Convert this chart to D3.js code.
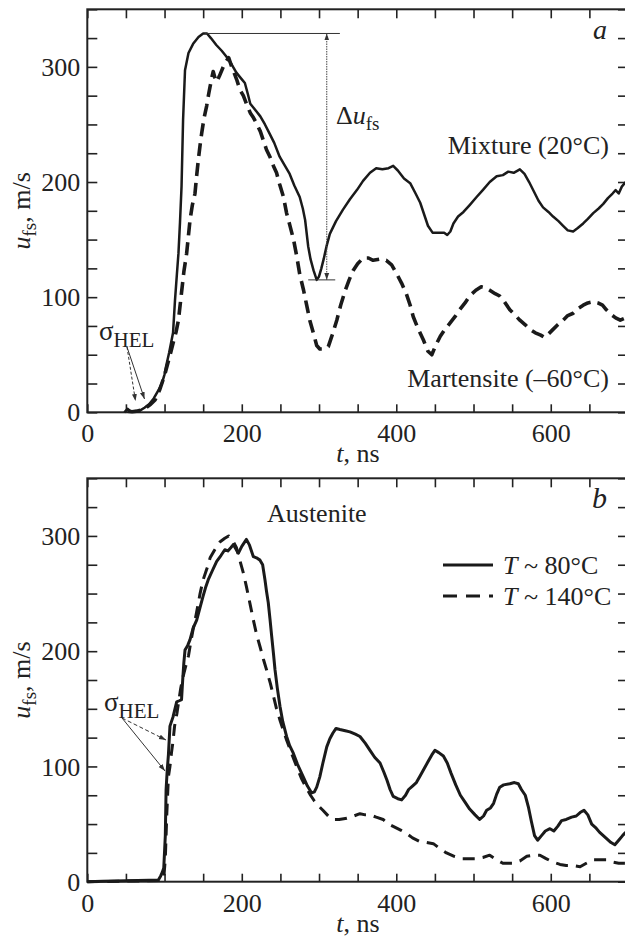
<!DOCTYPE html>
<html>
<head>
<meta charset="utf-8">
<script src="https://cdn.jsdelivr.net/npm/d3@7"></script>
<style>
  html, body { margin: 0; padding: 0; background: #fff; }
  svg { display: block; }
</style>
</head>
<body>
<svg id="chart" width="625" height="939" style='font-family: "Liberation Serif", serif;'></svg>
<script>
// Free-surface velocity profiles u_fs(t), values in m/s, time in ns
const xTicks = [0, 200, 400, 600];
const yTicks = [0, 100, 200, 300];

// Panel a: two-phase mixture at 20 °C
const mixture = [
  [48,0],[52,3],[56,1],[62,0.5],[68,1.5],[74,4],[80,7],[86,12],[92,19],[97,26],[100,33],[102,40],
  [106,52],[111,69],[113.5,97],[116,120],[118,138],[120,165],[122,196],[124,254],[126.5,297],[131,312],
  [137,320],[144,326],[150,329],[155,329],[160,325],[167,319],[174,314],[180,309],[187,302],[193,295],
  [199,290],[204,286],[208,276],[211,268],[217,263],[224,257],[230,250],[236,242],[242,234],[249,222],
  [255,215],[262,207],[268,197],[275,187],[279,177],[282,167],[286,144],[289,133],[293,123],[297,115],
  [300,118],[303,125],[306,133],[310,145],[314,155],[322,166],[331,176],[340,185],[349,193],[357,201],
  [366,208],[374,212],[382,211],[390,212],[396,214],[402,210],[410,203],[418,199],[425,190],[431,182],
  [436,172],[441,162],[447,156],[455,156],[462,156],[466,154],[470,157],[474,164],[480,170],[487,174],
  [495,180],[504,187],[512,193],[521,200],[530,205],[538,206],[545,209],[552,208],[560,211],[566,207],
  [572,200],[578,192],[584,184],[590,178],[597,174],[603,170],[610,166],[616,162],[622,158],[629,157],
  [635,160],[642,164],[648,168],[655,173],[662,177],[668,181],[674,186],[680,190],[684,193],[688,190],
  [692,196],[697,200]
];

// Panel a: martensite at −60 °C
const martensite = [
  [52,1],[58,0.5],[64,1],[70,2],[76,4],[82,7],[88,11],[94,20],[100,32],[104,42],[108,52],[111,60],
  [115,70],[118,80],[122,104],[125,122],[128.6,138],[133,167],[136,180],[139.4,190],[141.5,205],
  [143.7,219],[146,232],[148,242],[151,255],[154.5,266],[157,276],[159,283],[161,290],[163,296],
  [165,291],[167.5,287],[171,292],[176,300],[180,305],[183,308],[187,300],[190,295],[193.4,289],
  [197.7,280],[202,275],[206,268],[211,260],[215,256],[219,251],[224,244],[228,236],[232,228],
  [237,221],[241,214],[245,208],[249,198],[254,187],[258,173],[262,163],[267,150],[271,136],
  [275,120],[280,106],[284,93],[288,80],[293,68],[297,58],[301,55],[306,55],[312,57],[317,67],
  [323,80],[328,93],[334,106],[339,115],[344,123],[350,129],[357,134],[364,134],[370,132],[378,133],
  [387,132],[394,128],[400,121],[407,112],[413,103],[418,93],[422,83],[428,73],[435,63],[441,53],
  [446,50],[451,58],[457,66],[463,72],[469,77],[476,83],[482,89],[489,95],[495,101],[503,106],
  [510,109],[516,108],[521,106],[528,103],[534,101],[540,96],[547,89],[553,85],[560,80],[567,76],
  [573,72],[580,69],[587,67],[592,65],[597,68],[603,72],[609,76],[616,80],[622,84],[629,86],[635,90],
  [642,93],[648,95],[655,96],[661,95],[667,93],[672,89],[678,85],[684,82],[690,80],[697,82]
];

// Panel b: austenite at T ~ 80 °C
const austenite80 = [
  [0,0],[20,0.3],[50,0.8],[80,1.2],[92,1.5],[95,5],[97,8],[99,12],[101,40],[102,80],[103.5,97],
  [105,110],[107,135],[111,143],[115.7,156],[119,157],[122,158],[123.5,175],[125,190],[126.5,201],
  [130,205],[133,210],[137,220],[141.6,227],[146,238],[150,248],[153,255],[156.6,262],[162,270],
  [167.5,278],[173,283],[178,288],[182,287],[186,290],[189,292.5],[192,289],[195.5,285],[200,291],
  [203,294],[206,297],[210,292],[215,282],[219,281],[223.6,279],[227,275],[230,262],[232,252],
  [234.3,242],[236.5,228],[238.7,213],[241,198],[243,184],[246,168],[249.5,152],[253,139],[258,126],
  [262,118],[266.7,111.5],[272,102],[279.6,91],[285,83],[290.5,77],[294,78],[297,82],[301,91],
  [305,103],[310,117],[314,124],[318,129],[322,133],[327,132],[334,131],[340,130],[347,128],[353,126],
  [360,120],[366,114],[372,108],[379,103],[384,95],[388,88],[392,80],[396,74],[402,72],[407,71],
  [412,75],[416,80],[421,83],[426,86],[431,92],[436,98],[441,104],[446,110],[450,114],[455,112],
  [461,109],[466,103],[471,94],[477,84],[483,75],[489,69],[495,63],[502,58],[508,54],[513,57],[517,62],
  [522,64],[526,68],[530,76],[534,82],[539,84],[547,85],[553,86],[558,85],[562,80],[567,75],[571,65],
  [575,52],[579,40],[583,36],[588,40],[593,44],[599,46],[604,44],[609,48],[614,53],[620,54],[627,56],
  [633,57],[638,60],[643,62],[648,58],[653,50],[658,47],[663,43],[668,40],[673,37],[678,34],[683,32],
  [688,36],[693,40],[697,43]
];

// Panel b: austenite at T ~ 140 °C
const austenite140 = [
  [0,0],[50,0.5],[95,1],[99,3],[101,20],[103,60],[105,91],[107,100],[109,112],[111,122],[113,135],
  [116,146],[118,155],[121,168],[124,178],[127,186],[131,196],[134,208],[137,219],[141,232],[146,250],
  [150,262],[155,272],[159,281],[165,288],[172,295],[178,298],[183,300],[186,298],[189,295],[193,290],
  [197,280],[202,268],[206,256],[211,240],[215,227],[219,215],[224,203],[228,193],[232,184],[237,172],
  [241,161],[245,150],[250,139],[254,131],[258,123],[264,112],[271,100],[277,90],[283,82],[289,75],
  [294,70],[299,66],[305,62],[312,57],[318,54],[326,54],[336,55],[345,57],[353,59],[360,58],[366,58],
  [374,56],[383,54],[390,50],[396,48],[405,45],[413,42],[421,38],[430,35],[439,34],[448,33],[456,29],
  [465,25],[475,22],[486,20],[495,20],[504,20],[512,21],[521,23],[530,19],[538,16],[545,16],[551,16],
  [560,18],[569,22],[578,23],[586,23],[594,20],[603,17],[612,15],[620,14],[629,14],[638,13],[646,16],
  [655,19],[664,19],[672,19],[680,17],[688,16],[696,16]
];

const FONT = '"Liberation Serif", "Times New Roman", serif';
const INK = "#222";
const svg = d3.select("#chart");
const X_DOMAIN = [0, 700], Y_DOMAIN = [0, 350];

const defs = svg.append("defs");
defs.append("marker")
  .attr("id", "arrow")
  .attr("viewBox", "0 0 10 10")
  .attr("refX", 10).attr("refY", 5)
  .attr("markerWidth", 7).attr("markerHeight", 7)
  .attr("orient", "auto-start-reverse")
  .append("path").attr("d", "M0,1.5 L10,5 L0,8.5 Z").attr("fill", "#333");

function label(g, x, y, size) {
  return g.append("text")
    .attr("x", x).attr("y", y)
    .attr("font-size", size)
    .attr("fill", INK)
    .style("font-family", FONT);
}

function makePanel(top, bottom) {
  const left = 87.3, right = 628;
  const x = d3.scaleLinear().domain(X_DOMAIN).range([left, right]);
  const y = d3.scaleLinear().domain(Y_DOMAIN).range([bottom, top]);
  const g = svg.append("g");

  // frame
  g.append("rect")
    .attr("x", left).attr("y", top)
    .attr("width", right - left).attr("height", bottom - top)
    .attr("fill", "none").attr("stroke", INK).attr("stroke-width", 2);

  const xMinor = d3.range(0, 701, 50);
  const yMinor = d3.range(0, 351, 25);

  // inward ticks on all four sides
  g.append("g").attr("transform", `translate(0,${bottom})`)
    .call(d3.axisBottom(x).tickValues(xMinor).tickSize(-8).tickFormat(""))
    .call(s => s.select(".domain").remove());
  g.append("g").attr("transform", `translate(0,${top})`)
    .call(d3.axisTop(x).tickValues(xMinor).tickSize(-9).tickFormat(""))
    .call(s => s.select(".domain").remove());
  g.append("g").attr("transform", `translate(${left},0)`)
    .call(d3.axisLeft(y).tickValues(yMinor).tickSize(-10).tickFormat(""))
    .call(s => s.select(".domain").remove());
  g.append("g").attr("transform", `translate(${right},0)`)
    .call(d3.axisRight(y).tickValues(yMinor).tickSize(-10).tickFormat(""))
    .call(s => s.select(".domain").remove());
  g.selectAll(".tick line").attr("stroke", INK).attr("stroke-width", 1.6);

  // tick labels
  const xl = g.append("g").attr("transform", `translate(0,${bottom})`)
    .call(d3.axisBottom(x).tickValues(xTicks).tickSize(0).tickPadding(0));
  xl.attr("font-family", null).select(".domain").remove();
  xl.selectAll("text").attr("font-size", 26).attr("y", 30).attr("dy", 0)
    .style("font-family", FONT).attr("fill", INK);

  const yl = g.append("g").attr("transform", `translate(${left},0)`)
    .call(d3.axisLeft(y).tickValues(yTicks).tickSize(0).tickPadding(0));
  yl.attr("font-family", null).select(".domain").remove();
  yl.selectAll("text").attr("font-size", 26).attr("x", -7).attr("dy", "0.33em")
    .style("font-family", FONT).attr("fill", INK);

  // axis titles
  const xt = label(g, 358, bottom + 50, 26).attr("text-anchor", "middle");
  xt.append("tspan").attr("font-style", "italic").text("t");
  xt.append("tspan").text(", ns");

  const yt = label(g, 0, 0, 26)
    .attr("transform", `translate(30,${(top + bottom) / 2}) rotate(-90)`)
    .attr("text-anchor", "middle");
  yt.append("tspan").attr("font-style", "italic").text("u");
  yt.append("tspan").attr("font-size", 19).attr("dy", 6).text("fs");
  yt.append("tspan").attr("dy", -6).text(", m/s");

  return { g, x, y, top, bottom, left, right };
}

function drawCurve(p, data, width, dash) {
  const line = d3.line().x(d => p.x(d[0])).y(d => p.y(d[1])).curve(d3.curveLinear);
  p.g.append("path")
    .datum(data)
    .attr("d", line)
    .attr("fill", "none")
    .attr("stroke", "#1a1a1a")
    .attr("stroke-width", width)
    .attr("stroke-linejoin", "round")
    .attr("stroke-dasharray", dash || null);
}

function sigmaLabel(g, xPos, yPos) {
  const t = label(g, xPos, yPos, 27);
  t.append("tspan").text("σ");
  t.append("tspan").attr("font-size", 21).attr("dy", 7).text("HEL");
}

function arrow(g, x1, y1, x2, y2, dash) {
  g.append("line")
    .attr("x1", x1).attr("y1", y1).attr("x2", x2).attr("y2", y2)
    .attr("stroke", "#333").attr("stroke-width", 1)
    .attr("stroke-dasharray", dash || null)
    .attr("marker-end", "url(#arrow)");
}

// ---------- panel a ----------
const pa = makePanel(9.3, 412.3);
drawCurve(pa, martensite, 3.6, "13,7");
drawCurve(pa, mixture, 2.5);

// Δu_fs: peak-to-dip amplitude of the mixture profile
const peakU = d3.max(mixture, d => d[1]);
const dipU = d3.min(mixture.filter(d => d[0] > 250 && d[0] < 350), d => d[1]);
pa.g.append("line")
  .attr("x1", pa.x(152)).attr("x2", pa.x(327))
  .attr("y1", pa.y(peakU)).attr("y2", pa.y(peakU))
  .attr("stroke", "#333").attr("stroke-width", 1);
pa.g.append("line")
  .attr("x1", pa.x(286)).attr("x2", pa.x(321))
  .attr("y1", pa.y(dipU)).attr("y2", pa.y(dipU))
  .attr("stroke", "#333").attr("stroke-width", 1);
pa.g.append("line")
  .attr("x1", pa.x(310)).attr("x2", pa.x(310))
  .attr("y1", pa.y(peakU)).attr("y2", pa.y(dipU))
  .attr("stroke", "#444").attr("stroke-width", 1).attr("stroke-dasharray", "1.5,1")
  .attr("marker-start", "url(#arrow)").attr("marker-end", "url(#arrow)");
const du = label(pa.g, 336, 124, 26);
du.append("tspan").text("Δ");
du.append("tspan").attr("font-style", "italic").text("u");
du.append("tspan").attr("font-size", 19).attr("dy", 6).text("fs");

label(pa.g, 609, 154, 26).attr("text-anchor", "end").text("Mixture (20°C)");
label(pa.g, 609, 387, 26).attr("text-anchor", "end").text("Martensite (–60°C)");
label(pa.g, 607, 39, 28).attr("text-anchor", "end").attr("font-style", "italic").text("a");

sigmaLabel(pa.g, 99, 340);
arrow(pa.g, 127, 347, 135.5, 401, "3,2");
arrow(pa.g, 127, 347, 144.5, 399);

// ---------- panel b ----------
const pb = makePanel(478.3, 881.7);
drawCurve(pb, austenite140, 3, "12,8");
drawCurve(pb, austenite80, 3);

label(pb.g, 267, 522, 26).text("Austenite");
label(pb.g, 607, 508, 30).attr("text-anchor", "end").attr("font-style", "italic").text("b");

// legend
const legend = [
  { label: "80°C", dash: null },
  { label: "140°C", dash: "14,9" }
];
legend.forEach((d, i) => {
  const yy = 565 + i * 31;
  pb.g.append("line")
    .attr("x1", 443).attr("x2", 493).attr("y1", yy).attr("y2", yy)
    .attr("stroke", "#1a1a1a").attr("stroke-width", 3)
    .attr("stroke-dasharray", d.dash);
  const t = label(pb.g, 503, yy + 9, 26);
  t.append("tspan").attr("font-style", "italic").text("T");
  t.append("tspan").text(" ~ " + d.label);
});

sigmaLabel(pb.g, 104, 711);
arrow(pb.g, 122, 718, 166, 740, "4,2.5");
arrow(pb.g, 122, 718, 165, 771);
</script>
</body>
</html>
